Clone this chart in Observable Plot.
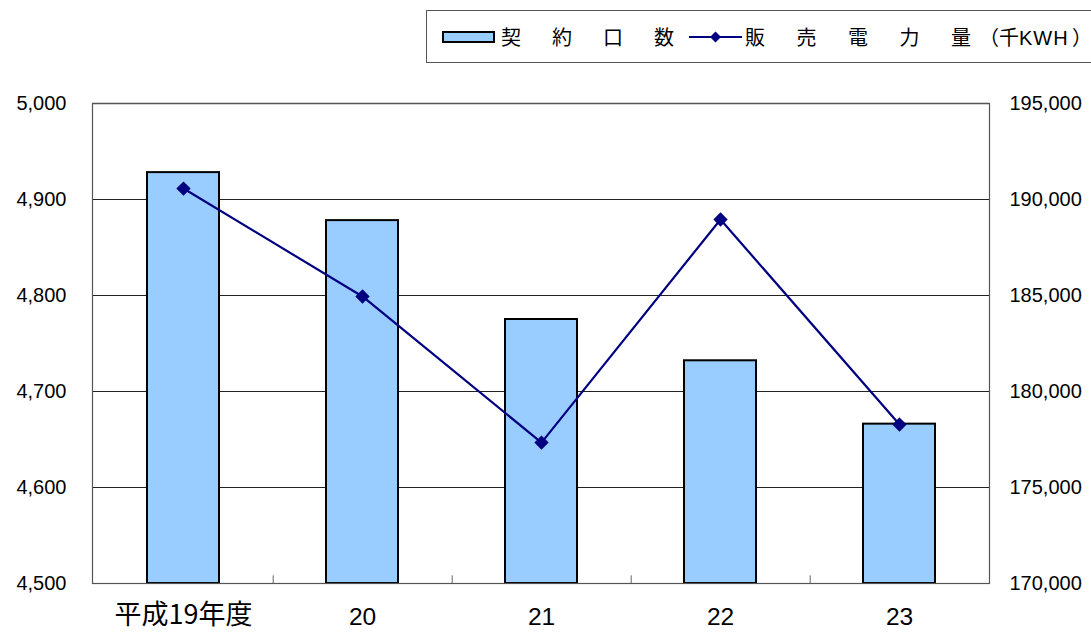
<!DOCTYPE html>
<html>
<head>
<meta charset="utf-8">
<script src="https://cdn.jsdelivr.net/npm/d3@7"></script>
<script src="https://cdn.jsdelivr.net/npm/@observablehq/plot@0.6"></script>
<style>
  html, body { margin: 0; padding: 0; background: #fff; }
  #wrap { position: relative; width: 1091px; height: 633px; overflow: hidden; }
  #chart { position: absolute; left: 0; top: 0; }
  #legend {
    position: absolute; left: 426px; top: 10px; width: 680px; height: 53px;
    border: 1px solid #555; box-sizing: border-box; background: #fff;
    font-family: "Noto Sans CJK JP", sans-serif; font-size: 20px; color: #000;
    display: flex; align-items: center; white-space: nowrap;
  }
  #legend .ch { display: inline-block; width: 20px; text-align: center; }
  #legend .gap1 { display: inline-block; width: 31px; }
  #legend .gap2 { display: inline-block; width: 31.5px; }
  #legend .unit { margin-left: 8px; }
  #legend .unit .lat { font-family: "Liberation Sans", Arial, sans-serif; letter-spacing: 1px; }
  #legend .unit .close { font-feature-settings: "palt"; margin-left: 4px; }
  #legend svg { display: block; }
</style>
</head>
<body>
<div id="wrap">
  <div id="chart"></div>
  <div id="legend"></div>
</div>
<script>
const years = ["平成19年度", "20", "21", "22", "23"];
const contracts = [4928, 4878, 4775, 4732, 4666];          // 契約口数 (left axis)
const sales = [190570, 184950, 177340, 188960, 178280];    // 販売電力量 千KWH (right axis)
const leftTicks = [4500, 4600, 4700, 4800, 4900, 5000];
const rightTicks = [170000, 175000, 180000, 185000, 190000, 195000];
const seriesNames = ["契約口数", "販売電力量"];
const unitParts = ["（千", "KWH", "）"];

const leftDomain = [4500, 5000];
const rightDomain = [170000, 195000];
const toLeft = v => leftDomain[0] + (v - rightDomain[0]) * (leftDomain[1] - leftDomain[0]) / (rightDomain[1] - rightDomain[0]);
const fromLeft = v => rightDomain[0] + (v - leftDomain[0]) * (rightDomain[1] - rightDomain[0]) / (leftDomain[1] - leftDomain[0]);

const data = years.map((y, i) => ({year: y, contracts: contracts[i], sales: toLeft(sales[i])}));

const W = 1091, H = 633, mL = 92, mR = 102, mT = 103, mB = 50;
const step = (W - mL - mR) / years.length;
const fmt = d3.format(",");

const chart = Plot.plot({
  width: W, height: H,
  marginLeft: mL, marginRight: mR, marginTop: mT, marginBottom: mB,
  style: {fontFamily: "'Liberation Sans', Arial, sans-serif", background: "transparent"},
  x: {domain: years, type: "band", paddingInner: 0.6, paddingOuter: 0.3},
  y: {domain: leftDomain},
  marks: [
    Plot.ruleY(leftTicks, {stroke: "#222", strokeWidth: 1}),
    Plot.ruleY([leftDomain[1]], {stroke: "#888", strokeWidth: 1.5}),
    Plot.ruleX(years.slice(0, -1), {x: d => d, dx: step / 2, y1: leftDomain[0], y2: leftDomain[0] + 8, stroke: "#666"}),
    Plot.barY(data, {x: "year", y1: leftDomain[0], y2: "contracts", fill: "#99ccff", stroke: "#000", strokeWidth: 2}),
    Plot.line(data, {x: "year", y: "sales", stroke: "#000080", strokeWidth: 2.2}),
    Plot.dot(data, {x: "year", y: "sales", symbol: "diamond2", r: 5.5, fill: "#000080", stroke: "#000080"}),
    Plot.frame({stroke: "#555", strokeWidth: 1.2}),
    Plot.axisY(leftTicks, {anchor: "left", tickSize: 0, tickPadding: 26, fontSize: 20, tickFormat: fmt, label: null}),
    Plot.axisY(rightTicks.map(toLeft), {anchor: "right", tickSize: 0, tickPadding: 20, fontSize: 20, tickFormat: d => fmt(Math.round(fromLeft(d))), label: null, textAnchor: "start"}),
    Plot.axisX([years[0]], {tickSize: 0, tickPadding: 21, fontSize: 27, label: null, fontFamily: "'Noto Sans CJK JP', sans-serif"}),
    Plot.axisX(years.slice(1), {tickSize: 0, tickPadding: 24, fontSize: 24.5, label: null})
  ]
});
document.getElementById("chart").appendChild(chart);

// legend
const spaced = (s, g) => [...s].map((c, i) => (i ? `<span class="${g}"></span>` : '') + `<span class="ch">${c}</span>`).join("");
const lg = document.getElementById("legend");
lg.innerHTML = `
  <div style="width:15px"></div>
  <svg width="53" height="12"><rect x="1" y="1" width="51" height="10" fill="#99ccff" stroke="#000" stroke-width="2"/></svg>
  <span style="margin-left:6px">${spaced(seriesNames[0], "gap1")}</span>
  <svg width="53" height="16" style="margin-left:15px"><line x1="0" y1="8" x2="53" y2="8" stroke="#000080" stroke-width="2"/><path d="M26.5,2.5 L32,8 L26.5,13.5 L21,8 Z" fill="#000080"/></svg>
  <span style="margin-left:3px">${spaced(seriesNames[1], "gap2")}</span><span class="unit">${unitParts[0]}<span class="lat">${unitParts[1]}</span><span class="close">${unitParts[2]}</span></span>
`;
</script>
</body>
</html>
